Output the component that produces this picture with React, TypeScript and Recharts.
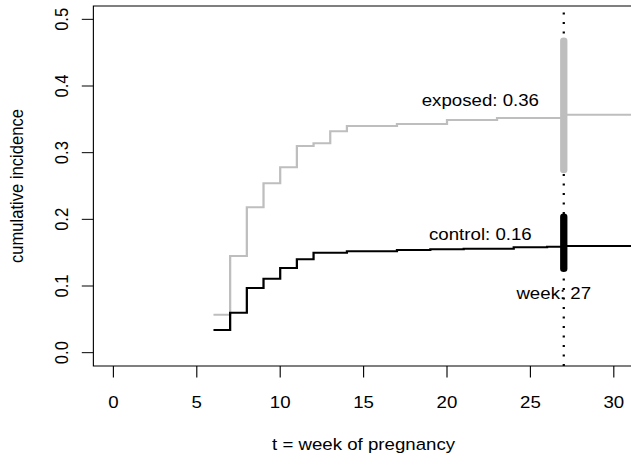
import React from "react";
import {
  LineChart,
  Line,
  XAxis,
  YAxis,
  ReferenceLine,
  ReferenceArea,
  ReferenceDot,
  Label,
} from "recharts";

// step points: week where the cumulative incidence changes
const controlWeeks = [6, 7, 8, 9, 10, 11, 12, 14, 17, 19, 21, 24, 26, 27, 31.2];
const controlRisk = [0.034, 0.06, 0.097, 0.111, 0.127, 0.14, 0.15, 0.152, 0.154, 0.155, 0.156, 0.158, 0.159, 0.16, 0.16];

const exposedWeeks = [6, 7, 8, 9, 10, 11, 12, 13, 14, 17, 20, 23, 27, 31.2];
const exposedRisk = [0.057, 0.145, 0.218, 0.254, 0.278, 0.31, 0.314, 0.332, 0.34, 0.343, 0.349, 0.352, 0.357, 0.357];

// confidence intervals at the marked week
const markWeek = 27;
const exposedCI = [0.274, 0.468];
const controlCI = [0.126, 0.204];

const xTicks = [0, 5, 10, 15, 20, 25, 30];
const yTicks = [0, 0.1, 0.2, 0.3, 0.4, 0.5];
const xDomain = [-1.2, 31.2];
const yDomain = [-0.02, 0.52];

// annotation texts and where they sit (data units)
const notes = [
  { text: "exposed: 0.36", x: 22, y: 0.379 },
  { text: "control: 0.16", x: 22, y: 0.1775 },
  { text: "week: 27", x: 26.4, y: 0.089 },
];

const controlData = controlWeeks.map((w, i) => ({ x: w, y: controlRisk[i] }));
const exposedData = exposedWeeks.map((w, i) => ({ x: w, y: exposedRisk[i] }));
const exposedCIData = exposedCI.map((v) => ({ x: markWeek, y: v }));
const controlCIData = controlCI.map((v) => ({ x: markWeek, y: v }));

const FONT = "'Liberation Sans', Arial, Helvetica, sans-serif";
const FS = 16.6;
const GREY = "#BEBEBE";

const XTick = (props: any) => {
  const { x, y, payload } = props;
  return (
    <text x={x} y={y + 30.1} textAnchor="middle" fontSize={FS} fontFamily={FONT} fill="#000">
      {payload.value}
    </text>
  );
};

const YTick = (props: any) => {
  const { x, y, payload } = props;
  const bx = x - 11.9;
  return (
    <text
      x={bx}
      y={y}
      transform={`rotate(-90, ${bx}, ${y})`}
      textAnchor="middle"
      fontSize={FS}
      fontFamily={FONT}
      fill="#000"
    >
      {Number(payload.value).toFixed(1)}
    </text>
  );
};

const XTitle = (props: any) => {
  const vb = props.viewBox;
  return (
    <text x={vb.x + vb.width / 2} y={vb.y + 84} textAnchor="middle" fontSize={FS} fontFamily={FONT} fill="#000">
      t = week of pregnancy
    </text>
  );
};

const YTitle = (props: any) => {
  const vb = props.viewBox;
  const bx = vb.x + 20.7;
  const cy = vb.y + vb.height / 2;
  return (
    <text
      x={bx}
      y={cy}
      transform={`rotate(-90, ${bx}, ${cy})`}
      textAnchor="middle"
      fontSize={FS}
      fontFamily={FONT}
      fill="#000"
    >
      cumulative incidence
    </text>
  );
};

const App: React.FC = () => {
  return (
    <div
      style={{
        position: "absolute",
        left: 0,
        top: 0,
        width: 631,
        height: 456,
        overflow: "hidden",
        background: "#fff",
      }}
    >
      <div style={{ width: 580, height: 456, transform: "scaleX(1.125)", transformOrigin: "0 0" }}>
        <LineChart width={580} height={456} margin={{ top: 6, right: 16.6, bottom: 0, left: 0 }}>
          <XAxis
            type="number"
            dataKey="x"
            domain={xDomain}
            ticks={xTicks}
            allowDataOverflow
            axisLine={false}
            tickSize={11.6}
            tickMargin={0}
            tickLine={{ stroke: "#000" }}
            tick={<XTick />}
            height={90}
          >
            <Label content={<XTitle />} />
          </XAxis>
          <YAxis
            type="number"
            dataKey="y"
            domain={yDomain}
            ticks={yTicks}
            allowDataOverflow
            axisLine={false}
            tickSize={10.3}
            tickMargin={0}
            tickLine={{ stroke: "#000" }}
            tick={<YTick />}
            width={83}
          >
            <Label content={<YTitle />} />
          </YAxis>
          <ReferenceArea
            x1={xDomain[0]}
            x2={xDomain[1]}
            y1={yDomain[0]}
            y2={yDomain[1]}
            fill="none"
            stroke="#000"
            strokeWidth={1}
          />
          <Line
            data={exposedData}
            dataKey="y"
            type="stepAfter"
            stroke={GREY}
            strokeWidth={2}
            dot={false}
            isAnimationActive={false}
          />
          <Line
            data={controlData}
            dataKey="y"
            type="stepAfter"
            stroke="#000"
            strokeWidth={2}
            dot={false}
            isAnimationActive={false}
          />
          <ReferenceLine x={markWeek} stroke="#000" strokeWidth={2} strokeDasharray="2 7.5" />
          <Line
            data={exposedCIData}
            dataKey="y"
            stroke={GREY}
            strokeWidth={6.5}
            strokeLinecap="round"
            dot={false}
            isAnimationActive={false}
          />
          <Line
            data={controlCIData}
            dataKey="y"
            stroke="#000"
            strokeWidth={6.5}
            strokeLinecap="round"
            dot={false}
            isAnimationActive={false}
          />
          {notes.map((n) => (
            <ReferenceDot
              key={n.text}
              x={n.x}
              y={n.y}
              r={0}
              fill="none"
              stroke="none"
              label={{
                value: n.text,
                position: "center",
                fill: "#000",
                fontSize: FS,
                fontFamily: FONT,
              }}
            />
          ))}
        </LineChart>
      </div>
    </div>
  );
};

export default App;
